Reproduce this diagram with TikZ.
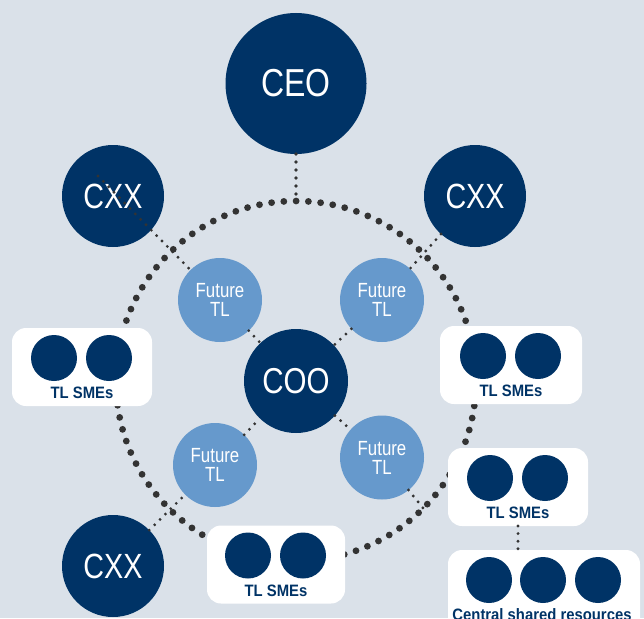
\documentclass[tikz,border=0pt]{standalone}
\usepackage{fontspec}
\usetikzlibrary{calc}
\newfontfamily\cond{Liberation Sans}[FakeStretch=0.82]
\newfontfamily\lbl{Liberation Sans}[FakeStretch=0.9]
\definecolor{navy}{RGB}{0,51,102}
\definecolor{lightb}{RGB}{102,153,204}
\definecolor{bgc}{RGB}{218,225,233}
\definecolor{dotc}{RGB}{51,51,51}
\begin{document}
\begin{tikzpicture}[x=1pt,y=-1pt,
  navycirc/.style={circle, fill=navy, text=white, inner sep=0pt, outer sep=0pt},
  ftl/.style={circle, fill=lightb, text=white, minimum size=84pt, inner sep=0pt, outer sep=0pt,
    align=center, font=\cond\fontsize{20.5}{19}\selectfont},
  smebox/.style={rectangle, rounded corners=14pt, fill=white, minimum width=140pt,
    minimum height=78pt, inner sep=0pt, outer sep=0pt},
  smedot/.style={circle, fill=navy, minimum size=46pt, inner sep=0pt},
  smelabel/.style={font=\lbl\bfseries\fontsize{16.5}{18}\selectfont, text=navy, inner sep=0pt},
  ringdots/.style={draw=dotc, line width=6.8pt, dash pattern=on 0pt off 12.29pt, line cap=round},
  linkdots/.style={draw=dotc, line width=3.2pt, dash pattern=on 0pt off 7.6pt, line cap=round},
  ceodots/.style={draw=dotc, line width=3.6pt, dash pattern=on 0pt off 8pt, line cap=round}]
\clip (0,0) rectangle (644,618);
\fill[bgc] (0,0) rectangle (644,618);

% dotted ring around the COO
\node[circle, minimum size=360pt, inner sep=0pt, outer sep=0pt, ringdots] (ring) at (296,381) {};

% executive circles
\node[navycirc, minimum size=141pt, font=\cond\fontsize{39}{40}\selectfont] (CEO) at (296,83.5) {CEO};
\node[navycirc, minimum size=102pt, font=\cond\fontsize{35}{38}\selectfont] (cxxA) at (113,196) {CXX};
\node[navycirc, minimum size=102pt, font=\cond\fontsize{35}{38}\selectfont] (cxxB) at (475,196) {CXX};
\node[navycirc, minimum size=102pt, font=\cond\fontsize{35}{38}\selectfont] (cxxC) at (113,566) {CXX};
\node[navycirc, minimum size=104pt, font=\cond\fontsize{36}{38}\selectfont] (COO) at (296,381) {COO};

% future team leads
\node[ftl] (ftlA) at (220,300) {Future\\TL};
\node[ftl] (ftlB) at (382,300) {Future\\TL};
\node[ftl] (ftlC) at (215,465) {Future\\TL};
\node[ftl] (ftlD) at (382,457.5) {Future\\TL};

% subject matter expert groups
\node[smebox] (smeA) at (82,367) {};
\node[smebox, minimum width=142pt] (smeB) at (511,365) {};
\node[smebox] (smeC) at (518,487) {};
\node[smebox, minimum width=138pt] (smeD) at (276,564.5) {};
\foreach \b in {smeA,smeB,smeC,smeD}{
  \node[smedot] (\b-1) at ($(\b)+(-28,-9)$) {};
  \node[smedot] (\b-2) at ($(\b)+(27,-9)$) {};
  \node[smelabel] (\b-t) at ($(\b)+(0,26)$) {TL SMEs};
}

% central shared resources
\node[smebox, minimum width=192pt, minimum height=110pt] (central) at (544,605) {};
\node[smedot] (central-1) at (489,580) {};
\node[smedot] (central-2) at (543,580) {};
\node[smedot] (central-3) at (598,580) {};
\node[smelabel, anchor=base] (central-t) at (542,620) {Central shared resources};

% reporting lines
\coordinate (cxxAin) at (98,176);
\draw[ceodots] (CEO) -- (ring.north);
\draw[linkdots] (cxxAin) -- (ftlA);
\draw[linkdots] (ftlA) -- (COO);
\draw[linkdots] (cxxB) -- (ftlB);
\draw[linkdots] (ftlB) -- (COO);
\draw[linkdots] (cxxC) -- (ftlC);
\draw[linkdots] (ftlC) -- (COO);
\draw[linkdots] (COO) -- (ftlD);
\draw[linkdots] (ftlD) -- (ring.south east);
\draw[linkdots] (smeC.south) -- (smeC.south |- central.north);
\end{tikzpicture}
\end{document}
